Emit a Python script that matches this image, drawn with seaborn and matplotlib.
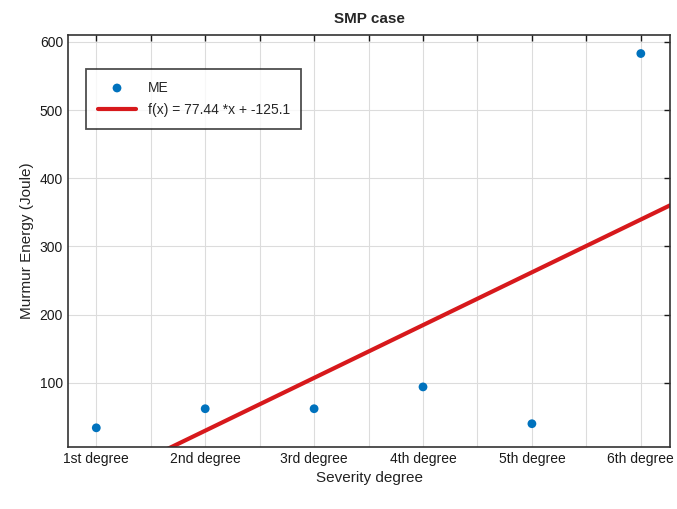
import numpy as np
import pandas as pd
import matplotlib
matplotlib.use("Agg")
import matplotlib.pyplot as plt
import seaborn as sns
from matplotlib.ticker import MultipleLocator

categories = ["1st degree", "2nd degree", "3rd degree", "4th degree", "5th degree", "6th degree"]
me_values = [34, 62, 62, 94, 40, 583]
fit_slope = 77.44
fit_intercept = -125.1
y_ticks = [100, 200, 300, 400, 500, 600]

sns.set_theme(style="white")
plt.rcParams["font.family"] = ["Liberation Sans", "DejaVu Sans"]

x_pos = np.arange(1, len(categories) + 1)
df = pd.DataFrame({"x": x_pos, "ME": me_values})

xlim = (0.74, 6.27)
fit_x = np.array(xlim)
fit_df = pd.DataFrame({"x": fit_x, "y": fit_slope * fit_x + fit_intercept})
fit_label = f"f(x) = {fit_slope} *x + {fit_intercept}"

fig = plt.figure(figsize=(6.77, 5.09), dpi=100)
ax = fig.add_axes([0.1004, 0.122, 0.8896, 0.809])

sns.scatterplot(data=df, x="x", y="ME", ax=ax, color="#0072BD", s=40,
                edgecolor="none", label="ME", zorder=3)
sns.lineplot(data=fit_df, x="x", y="y", ax=ax, color="#D7191C", linewidth=3,
             label=fit_label, zorder=2)

ax.set_xlim(*xlim)
ax.set_ylim(6, 610)
ax.set_xticks(x_pos)
ax.set_xticklabels(categories)
ax.xaxis.set_minor_locator(MultipleLocator(0.5))
ax.set_yticks(y_ticks)
ax.grid(True, which="both", axis="x", color="#dcdcdc", linewidth=0.8)
ax.grid(True, which="major", axis="y", color="#dcdcdc", linewidth=0.8)
ax.tick_params(direction="in", top=True, right=True, which="both",
               length=4, width=1, labelsize=10, colors="#1a1a1a")
for s in ax.spines.values():
    s.set_color("#333333")
    s.set_linewidth(1.2)

ax.set_title("SMP case", fontsize=11, fontweight="bold", pad=9)
ax.set_xlabel("Severity degree", fontsize=11, color="#222222")
ax.set_ylabel("Murmur Energy (Joule)", fontsize=11, color="#222222")

leg = ax.legend(loc="upper left", bbox_to_anchor=(0.018, 0.935), frameon=True,
                fancybox=False, edgecolor="#222222", fontsize=10,
                handlelength=2.8, borderpad=0.85, labelspacing=0.6)
leg.get_frame().set_linewidth(1.3)

fig.savefig("out.png", dpi=100)
